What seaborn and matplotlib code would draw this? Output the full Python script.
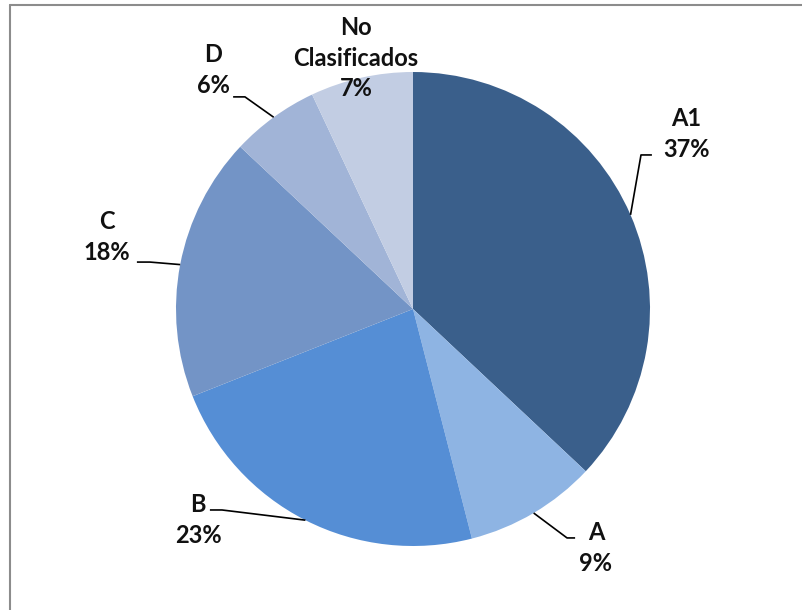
import numpy as np
import matplotlib
matplotlib.use("Agg")
import matplotlib.pyplot as plt
import seaborn as sns
from matplotlib.lines import Line2D

# ---------------------------------------------------------
# Data
# ---------------------------------------------------------
categories = ["A1", "A", "B", "C", "D", "No\nClasificados"]
shares = [37, 9, 23, 18, 6, 7]
pct_labels = ["37%", "9%", "23%", "18%", "6%", "7%"]
colors = ["#3A5F8B", "#8EB4E3", "#558ED5", "#7394C6", "#A1B4D7", "#C2CDE3"]

# label placement (data units, pie radius = 1) and leader elbows
label_pos = [(1.152, 0.738), (0.772, -1.008), (-0.907, -0.890),
             (-1.291, 0.304), (-0.844, 1.008), (-0.241, 1.059)]
elbows = [((0.962, 0.650), (1.008, 0.650)),
          ((0.650, -0.966), (0.684, -0.966)),
          ((-0.806, -0.848), (-0.857, -0.848)),
          ((-1.110, 0.198), (-1.165, 0.198)),
          ((-0.709, 0.895), (-0.759, 0.895)),
          None]

sns.set_theme(style="white")
plt.rcParams["font.family"] = ["Lato", "DejaVu Sans"]

fig = plt.figure(figsize=(8.03, 6.10), dpi=100)
# axes placed so that the pie centre sits at (413, 309) px with r = 237 px
W, H = 803, 610
r = 237
cx, cy = 413, 309
ax = fig.add_axes([(cx - 2 * r) / W, (H - cy - 2 * r) / H, 4 * r / W, 4 * r / H])

wedges, _ = ax.pie(shares, colors=colors, startangle=90, counterclock=False,
                   radius=1, wedgeprops=dict(linewidth=0))
ax.set_xlim(-2, 2)
ax.set_ylim(-2, 2)
ax.set_aspect("equal")
ax.axis("off")

total = sum(shares)
angle = 90.0
for i, s in enumerate(shares):
    span = s / total * 360
    mid = np.deg2rad(angle - span / 2)
    angle -= span
    x, y = label_pos[i]
    ax.text(x, y, f"{categories[i]}\n{pct_labels[i]}", ha="center", va="center",
            fontsize=17, fontweight="bold", color="#111111", linespacing=1.42)
    if elbows[i] is not None:
        (ex, ey), (tx, ty) = elbows[i]
        ax.plot([np.cos(mid), ex, tx], [np.sin(mid), ey, ty],
                color="black", lw=1.2, solid_capstyle="butt")

# partial frame (left and top edges)
fig.add_artist(Line2D([10 / W, 10 / W], [0, 1 - 5 / H], color="#8C8C8C", lw=1.5))
fig.add_artist(Line2D([10 / W, 1], [1 - 5 / H, 1 - 5 / H], color="#8C8C8C", lw=1.5))

fig.savefig("out.png", dpi=100)
